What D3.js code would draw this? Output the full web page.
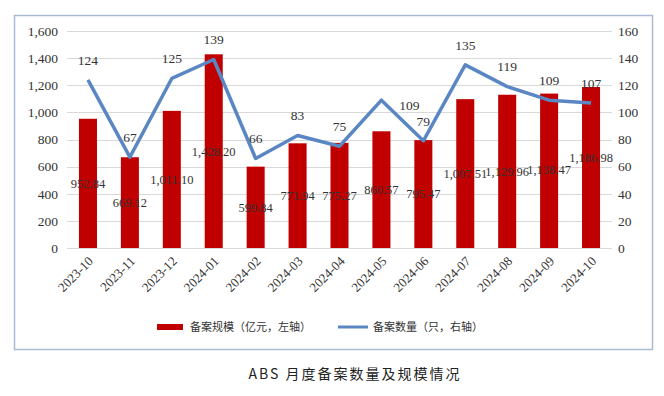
<!DOCTYPE html>
<html>
<head>
<meta charset="utf-8">
<script src="https://cdn.jsdelivr.net/npm/d3@7"></script>
<style>
  body { margin: 0; background: #fff; }
  svg { display: block; }
</style>
</head>
<body>
<div id="container"></div>
<script>
// data
const months = ["2023-10", "2023-11", "2023-12", "2024-01", "2024-02", "2024-03", "2024-04",
  "2024-05", "2024-06", "2024-07", "2024-08", "2024-09", "2024-10"];
const scale = [952.84, 669.12, 1011.10, 1428.20, 599.84, 771.94, 775.27,
  860.57, 795.47, 1097.51, 1129.96, 1138.47, 1186.98];
const count = [124, 67, 125, 139, 66, 83, 75, 109, 79, 135, 119, 109, 107];
const leftTicks = [0, 200, 400, 600, 800, 1000, 1200, 1400, 1600];
const rightTicks = [0, 20, 40, 60, 80, 100, 120, 140, 160];
const legendLabels = ["备案规模（亿元，左轴）", "备案数量（只，右轴）"];
const title = "ABS 月度备案数量及规模情况";

const width = 664, height = 396;
const plot = { left: 67, right: 612, top: 31, bottom: 248 };
const barColor = "#c00000";
const lineColor = "#5a87c4";
const textColor = "#333";
const serif = "'Liberation Serif', 'DejaVu Serif', serif";
const cjk = "'Noto Sans CJK SC', sans-serif";

const svg = d3.select("#container").append("svg")
  .attr("width", width)
  .attr("height", height);

// frame
svg.append("rect")
  .attr("x", 14.5).attr("y", 15.5)
  .attr("width", 638).attr("height", 334)
  .attr("fill", "none")
  .attr("stroke", "#a9bcd3")
  .attr("stroke-width", 1.5);

const x = d3.scaleBand()
  .domain(months)
  .range([plot.left, plot.right])
  .paddingInner(0.57)
  .paddingOuter(0.285);

const yL = d3.scaleLinear().domain([0, 1600]).range([plot.bottom, plot.top]);
const yR = d3.scaleLinear().domain([0, 160]).range([plot.bottom, plot.top]);

// grid
svg.append("g")
  .selectAll("line")
  .data(leftTicks)
  .join("line")
  .attr("x1", plot.left).attr("x2", plot.right)
  .attr("y1", d => Math.round(yL(d)) + 0.5)
  .attr("y2", d => Math.round(yL(d)) + 0.5)
  .attr("stroke", "#d9d9d9");

// left axis
const axisL = svg.append("g")
  .attr("transform", `translate(${plot.left},0)`)
  .call(d3.axisLeft(yL).tickValues(leftTicks).tickSize(0).tickPadding(9)
    .tickFormat(d3.format(",")));
axisL.select(".domain").remove();
axisL.selectAll("text")
  .attr("font-family", serif).attr("font-size", 13.5).attr("fill", textColor);

// right axis
const axisR = svg.append("g")
  .attr("transform", `translate(${plot.right},0)`)
  .call(d3.axisRight(yR).tickValues(rightTicks).tickSize(0).tickPadding(6));
axisR.select(".domain").remove();
axisR.selectAll("text")
  .attr("font-family", serif).attr("font-size", 13.5).attr("fill", textColor);

// bars
svg.append("g")
  .selectAll("rect")
  .data(scale)
  .join("rect")
  .attr("x", (d, i) => x(months[i]))
  .attr("y", d => yL(d))
  .attr("width", x.bandwidth())
  .attr("height", d => plot.bottom - yL(d))
  .attr("fill", barColor);

// x axis labels
const axisB = svg.append("g")
  .attr("transform", `translate(0,${plot.bottom})`)
  .call(d3.axisBottom(x).tickSize(0).tickPadding(0));
axisB.select(".domain").remove();
axisB.selectAll("text")
  .attr("font-family", serif).attr("font-size", 13).attr("fill", textColor)
  .attr("text-anchor", "end")
  .attr("dy", 0)
  .attr("transform", "translate(6,14) rotate(-45)");

// line
const cx = i => x(months[i]) + x.bandwidth() / 2;
svg.append("path")
  .datum(count)
  .attr("fill", "none")
  .attr("stroke", lineColor)
  .attr("stroke-width", 3.5)
  .attr("stroke-linejoin", "round")
  .attr("d", d3.line().x((d, i) => cx(i)).y(d => yR(d)));

// bar value labels
const fmt = d3.format(",.2f");
svg.append("g")
  .selectAll("text")
  .data(scale)
  .join("text")
  .attr("x", (d, i) => cx(i))
  .attr("y", d => yL(d / 2) - (d > 1130 && d < 1400 ? (d - 1130) / 6 : 0))
  .attr("dy", "0.35em")
  .attr("text-anchor", "middle")
  .attr("font-family", serif).attr("font-size", 12.5).attr("fill", textColor)
  .text(d => fmt(d));

// line value labels
svg.append("g")
  .selectAll("text")
  .data(count)
  .join("text")
  .attr("x", (d, i) => cx(i) + (i === 7 ? 28 : 0))
  .attr("y", (d, i) => yR(d) + (i === 7 ? 5 : -20))
  .attr("dy", "0.35em")
  .attr("text-anchor", "middle")
  .attr("font-family", serif).attr("font-size", 13.5).attr("fill", textColor)
  .text(d => d);

// legend
const lg = svg.append("g").attr("font-family", cjk).attr("font-size", 11).attr("fill", textColor);
lg.append("rect")
  .attr("x", 157).attr("y", 324).attr("width", 26).attr("height", 6)
  .attr("fill", barColor);
lg.append("text").attr("x", 190).attr("y", 327).attr("dy", "0.35em").text(legendLabels[0]);
lg.append("line")
  .attr("x1", 338).attr("x2", 368).attr("y1", 327).attr("y2", 327)
  .attr("stroke", lineColor).attr("stroke-width", 3);
lg.append("text").attr("x", 373).attr("y", 327).attr("dy", "0.35em").text(legendLabels[1]);

// caption
svg.append("text")
  .attr("x", 355).attr("y", 379)
  .attr("text-anchor", "middle")
  .attr("font-family", cjk).attr("font-size", 14)
  .attr("letter-spacing", 2)
  .attr("fill", "#222")
  .text(title);
</script>
</body>
</html>
